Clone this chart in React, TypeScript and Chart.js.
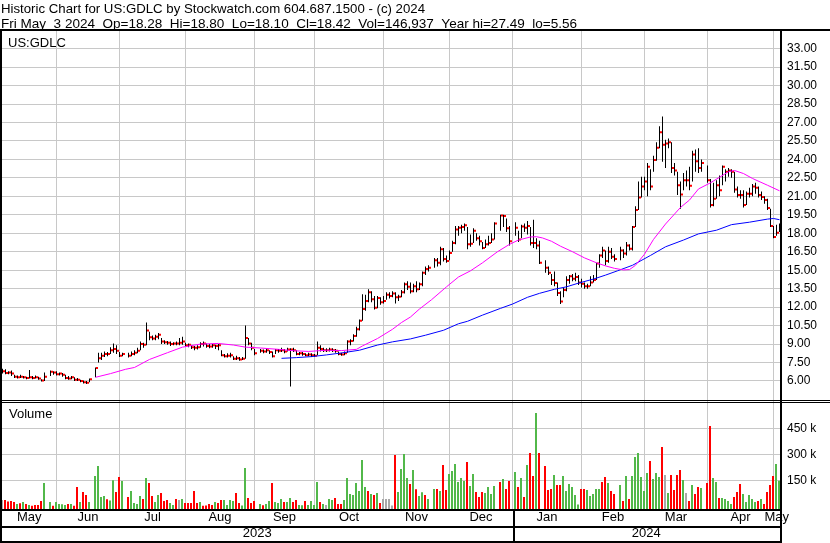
import React, { useEffect, useRef } from 'react';
import { Chart, registerables } from 'chart.js';

Chart.register(...registerables);

// ---------- texts ----------
const HEADER_LINE_1 = 'Historic Chart for US:GDLC by Stockwatch.com 604.687.1500 - (c) 2024';
const HEADER_LINE_2 = 'Fri May  3 2024  Op=18.28  Hi=18.80  Lo=18.10  Cl=18.42  Vol=146,937  Year hi=27.49  lo=5.56';
const SYMBOL_LABEL = 'US:GDLC';
const VOLUME_LABEL = 'Volume';

// ---------- daily data: one slot per weekday, May 8 2023 .. May 3 2024 (null = market holiday) ----------
const LOWS = [
  6.6, 6.55, 6.55, 6.4, 6.25, 6.2, 6.25, 6.2, 6.15, 6.2,
  6.15, 6.2, 6.1, 5.95, 6.0, null, 6.4, 6.5, 6.45, 6.45,
  6.35, 6.15, 6.1, 6.15, 6.0, 6.0, 5.9, 5.8, 5.75, 5.9,
  null, 6.3, 7.5, 7.7, 7.95, 8.0, 8.2, 8.3, 8.2, 7.95,
  8.0, null, 7.9, 8.0, 8.1, 8.25, 8.5, 8.7, 8.9, 9.3,
  9.3, 9.3, 9.4, 9.0, 9.0, 8.95, 8.85, 8.9, 8.9, 8.9,
  8.95, 8.8, 8.75, 8.6, 8.5, 8.55, 8.7, 8.8, 8.7, 8.65,
  8.7, 8.6, 8.5, 8.0, 7.9, 7.9, 7.9, 7.7, 7.7, 7.65,
  7.7, 7.8, 8.9, 8.5, 8.1, null, 8.3, 8.25, 8.3, 8.2,
  7.9, 8.2, 8.3, 8.35, 8.25, 8.4, 5.56, 8.35, 8.1, 8.1,
  8.05, 8.0, 8.0, 7.95, 7.95, 8.1, 8.4, 8.35, 8.35, 8.4,
  8.35, 8.3, 8.1, 8.05, 8.1, 8.3, 8.9, 9.2, 9.6, 10.1,
  10.9, 11.7, 12.4, 12.4, 11.8, 11.9, 12.2, 12.3, 12.6, 12.7,
  12.8, 12.3, 12.5, 12.8, 13.1, 13.4, 13.1, 13.2, 13.2, 13.4,
  13.7, 14.6, 14.9, null, 15.2, 15.3, 15.4, 15.7, 15.6, 15.8,
  16.5, 17.1, 17.8, 18.0, 18.2, 16.7, 16.9, 17.2, 17.4, 17.0,
  16.7, 16.8, 17.0, 17.2, 17.5, null, 18.2, 18.5, 18.1, 17.0,
  null, 17.8, 17.3, 17.6, 18.1, 17.9, 17.0, 16.8, 16.7, 15.5,
  null, 14.8, 14.6, 13.8, 13.7, 12.9, 12.25, 12.8, 13.3, 13.9,
  14.1, 14.1, 13.8, 13.6, 13.5, 13.5, 13.7, 14.0, 14.2, 15.2,
  16.0, 15.4, 15.6, 15.9, 15.7, null, 15.8, 16.0, 16.2, 16.6,
  16.6, 18.5, 19.9, 20.9, 21.5, 21.0, 21.5, 23.0, 23.9, 24.9,
  23.8, 23.3, 24.9, 22.9, 22.7, 21.1, 20.0, 21.5, 21.8, 21.5,
  22.2, 23.0, 22.9, 23.0, null, 22.1, 20.1, 20.2, 20.8, 21.0,
  21.9, 22.2, 22.6, 22.5, 21.3, 20.9, 20.8, 20.1, 20.3, 20.9,
  21.0, 21.2, 20.9, 20.7, 20.4, 19.9, 18.5, 17.6, 17.8, 18.1,
];

const HIGHS = [
  7.0, 6.95, 6.8, 6.85, 6.5, 6.45, 6.5, 6.4, 6.35, 6.9,
  6.4, 6.45, 6.35, 6.15, 6.7, null, 6.85, 6.8, 6.8, 6.7,
  6.65, 6.5, 6.4, 6.4, 6.3, 6.25, 6.1, 6.05, 6.0, 6.2,
  null, 7.1, 8.3, 8.3, 8.4, 8.35, 8.75, 9.05, 8.9, 8.35,
  8.3, null, 8.3, 8.4, 8.5, 8.7, 9.2, 9.1, 10.75, 10.0,
  9.7, 9.75, 9.9, 9.5, 9.3, 9.25, 9.2, 9.15, 9.2, 9.5,
  9.6, 9.1, 9.05, 8.9, 8.85, 8.9, 9.15, 9.2, 9.05, 9.0,
  9.0, 8.95, 9.0, 8.5, 8.2, 8.25, 8.3, 8.0, 8.05, 7.95,
  7.95, 10.5, 9.5, 9.1, 8.6, null, 8.6, 8.55, 8.65, 8.5,
  8.4, 8.6, 8.6, 8.7, 8.6, 8.7, 8.65, 8.7, 8.5, 8.35,
  8.35, 8.25, 8.3, 8.25, 8.2, 9.2, 8.9, 8.7, 8.65, 8.7,
  8.65, 8.6, 8.4, 8.3, 8.4, 9.3, 9.4, 9.8, 10.4, 11.0,
  13.05, 13.0, 13.45, 13.3, 12.9, 12.9, 12.8, 12.9, 13.2, 13.2,
  13.3, 13.2, 13.0, 13.4, 14.0, 14.1, 14.0, 13.9, 14.1, 14.0,
  14.9, 15.3, 15.4, null, 16.0, 16.0, 16.9, 16.8, 16.2, 16.6,
  17.4, 18.6, 18.6, 18.7, 18.8, 18.5, 17.9, 18.4, 18.0, 17.8,
  17.3, 17.5, 17.8, 18.0, 18.9, null, 19.5, 19.5, 19.2, 18.6,
  null, 18.9, 18.2, 18.7, 18.8, 19.0, 18.5, 19.1, 17.6, 17.4,
  null, 15.8, 15.3, 14.7, 14.9, 14.0, 13.3, 13.6, 14.5, 14.6,
  14.7, 14.8, 14.6, 14.3, 14.0, 13.9, 14.5, 14.6, 15.6, 16.3,
  16.9, 16.6, 16.9, 16.8, 16.3, null, 16.9, 16.7, 17.3, 17.1,
  18.6, 20.2, 22.2, 22.6, 22.6, 23.7, 23.2, 24.3, 25.4, 26.7,
  27.49, 25.6, 25.7, 25.4, 23.7, 23.0, 22.2, 22.9, 23.1, 23.4,
  24.7, 24.8, 24.9, 24.0, null, 23.5, 22.4, 22.1, 22.3, 22.7,
  23.5, 23.2, 23.3, 23.2, 23.0, 21.8, 21.5, 21.5, 21.4, 21.7,
  22.0, 22.1, 21.8, 21.4, 21.0, 20.8, 20.0, 18.6, 18.7, 18.8,
];

const CLOSES = [
  6.8, 6.65, 6.7, 6.6, 6.35, 6.3, 6.35, 6.3, 6.25, 6.3,
  6.25, 6.3, 6.2, 6.05, 6.35, null, 6.75, 6.7, 6.55, 6.6,
  6.5, 6.25, 6.2, 6.3, 6.1, 6.1, 6.0, 5.9, 5.85, 6.15,
  null, 7.05, 7.85, 8.05, 8.2, 8.2, 8.5, 8.6, 8.45, 8.05,
  8.2, null, 8.05, 8.2, 8.3, 8.45, 9.0, 8.95, 10.1, 9.55,
  9.45, 9.6, 9.75, 9.2, 9.15, 9.1, 9.0, 9.05, 9.05, 9.1,
  9.2, 8.9, 8.95, 8.75, 8.7, 8.75, 9.0, 9.05, 8.85, 8.8,
  8.9, 8.85, 8.9, 8.1, 8.0, 8.05, 8.1, 7.8, 7.85, 7.75,
  7.8, 9.5, 9.05, 8.7, 8.25, null, 8.45, 8.4, 8.5, 8.35,
  8.0, 8.5, 8.45, 8.5, 8.4, 8.55, 8.55, 8.5, 8.2, 8.25,
  8.2, 8.1, 8.15, 8.1, 8.05, 8.7, 8.6, 8.5, 8.5, 8.55,
  8.5, 8.45, 8.2, 8.15, 8.25, 9.2, 9.25, 9.65, 10.2, 10.9,
  11.85, 12.5, 13.2, 12.65, 11.95, 12.75, 12.4, 12.5, 13.0, 12.9,
  13.1, 12.8, 12.85, 13.2, 13.85, 13.65, 13.3, 13.7, 13.45, 13.85,
  14.8, 15.1, 15.2, null, 15.8, 15.6, 16.7, 15.9, 15.75, 16.4,
  17.2, 18.3, 18.45, 18.5, 18.65, 17.1, 17.15, 18.2, 17.6, 17.35,
  16.8, 17.1, 17.2, 17.5, 18.8, null, 19.45, 19.4, 18.4, 17.35,
  null, 18.45, 17.5, 18.55, 18.45, 18.6, 17.2, 17.2, 17.0, 15.6,
  null, 15.2, 14.8, 14.2, 13.95, 13.15, 12.45, 13.4, 14.2, 14.5,
  14.3, 14.45, 14.0, 13.9, 13.7, 13.7, 14.0, 14.2, 15.55, 16.2,
  16.6, 15.75, 16.5, 16.1, 15.9, null, 16.6, 16.35, 17.0, 16.75,
  18.5, 19.9, 20.9, 21.8, 22.2, 23.4, 21.8, 23.95, 24.95, 26.2,
  25.2, 25.3, 25.4, 23.3, 23.1, 21.9, 21.15, 22.3, 22.3, 21.85,
  24.4, 23.85, 23.3, 23.7, null, 22.3, 20.3, 20.8, 21.9, 21.5,
  23.4, 23.0, 23.1, 23.0, 21.55, 21.1, 21.1, 20.3, 21.2, 21.2,
  21.8, 21.7, 21.1, 20.95, 20.7, 20.05, 18.6, 17.7, 18.05, 18.42,
];

// volume in thousands of shares
const VOLUMES_K = [
  36, 36, 27, 31, 25, 13, 17, 25, 13, 8,
  3, 8, 8, 31, 135, null, 25, 3, 25, 13,
  12, 8, 13, 13, 3, 112, 25, 83, 65, 25,
  null, 175, 233, 54, 60, 40, 33, 150, 83, 169,
  146, null, 54, 88, 19, 13, 60, 42, 163, 135,
  60, 25, 65, 77, 31, 36, 19, 8, 42, 36,
  42, 19, 19, 19, 88, 19, 25, 3, 4, 13,
  8, 25, 19, 36, 36, 8, 36, 31, 77, 19,
  5, 221, 48, 19, 31, null, 13, 6, 13, 31,
  135, 25, 19, 42, 25, 25, 48, 25, 36, 8,
  6, 31, 8, 31, 8, 140, 25, 13, 8, 42,
  36, 48, 13, 13, 36, 163, 71, 65, 135, 88,
  267, 112, 88, 71, 65, 77, 19, 42, 42, 42,
  5, 296, 83, 215, 302, 163, 129, 210, 98, 60,
  81, 65, 42, null, 100, 100, 88, 238, 94, 187,
  204, 244, 140, 163, 146, 256, 117, 187, 83, 54,
  83, 77, 112, 71, 117, null, 140, 158, 100, 146,
  null, 198, 112, 163, 54, 238, 308, 175, 538, 308,
  null, 233, 94, 100, 181, 123, 123, 175, 88, 129,
  112, 65, 10, 100, 100, 94, 60, 71, 100, 100,
  140, 169, 135, 88, 71, null, 123, 31, 175, 42,
  175, 285, 308, 169, 88, 192, 262, 158, 192, 169,
  342, 181, 77, 181, 94, 181, 210, 152, 77, 31,
  123, 71, 112, 106, null, 135, 463, 163, 140, 48,
  48, 42, 31, 13, 54, 83, 129, 71, 25, 65,
  42, 25, 31, 42, 13, 83, 123, 175, 244, 146.937,
];

// day direction: 1 up, -1 down, 0 unchanged
const VOLUME_DIR = [
  0, -1, -1, -1, -1, 1, -1, 1, -1, 1,
  -1, -1, -1, -1, 1, null, 1, -1, 1, 1,
  1, 1, -1, 1, -1, -1, 1, -1, -1, 1,
  null, 1, 1, 1, 1, -1, 1, 1, -1, -1,
  1, null, -1, 1, 1, 1, 1, -1, 1, -1,
  -1, 1, 1, -1, -1, -1, 1, 1, -1, 0,
  1, -1, -1, -1, -1, -1, 1, -1, -1, -1,
  -1, 1, -1, -1, 1, 1, 1, 1, -1, -1,
  1, 1, -1, -1, -1, null, 1, -1, 1, 1,
  -1, 1, 1, 1, -1, 1, 1, -1, -1, 1,
  1, -1, 1, 1, 1, 1, -1, 1, 0, 1,
  1, -1, -1, -1, 1, 1, 1, 1, 1, 1,
  1, 1, -1, 1, -1, 1, -1, 0, 0, 0,
  0, -1, 1, 1, 1, 1, -1, 1, -1, 1,
  1, -1, 1, null, 1, -1, 1, -1, -1, 1,
  1, 1, 1, 1, 1, -1, 1, 1, -1, -1,
  -1, 1, 1, 1, 1, null, -1, 1, -1, -1,
  null, 1, -1, 1, -1, 1, -1, -1, 1, -1,
  null, -1, -1, -1, 1, -1, -1, 1, 1, 1,
  1, 1, 1, -1, -1, 1, 1, 1, 1, 1,
  -1, -1, 1, -1, -1, null, 1, -1, 1, -1,
  1, 1, 1, 1, 1, 1, -1, 1, 1, 1,
  -1, 0, 1, -1, -1, -1, -1, 1, 0, -1,
  1, -1, -1, 1, null, -1, -1, 1, 1, -1,
  1, 1, 1, 1, -1, -1, -1, 1, 1, 1,
  1, 1, -1, 1, -1, -1, -1, -1, 1, 1,
];

// moving averages: [weekday slot, value]
const MA_FAST: [number, number][] = [
  [31, 6.3], [36, 6.6], [41, 6.95], [44, 7.1], [49, 7.75], [55, 8.3], [60, 8.75], [66, 9.0],
  [72, 9.05], [77, 8.92], [81, 8.75], [86, 8.68], [92, 8.57], [97, 8.46], [102, 8.4], [108, 8.5],
  [113, 8.47], [118, 8.57], [120, 8.85], [125, 9.45], [130, 10.2], [133, 10.75], [136, 11.2],
  [139, 11.85], [143, 12.6], [148, 13.65], [152, 14.45], [156, 14.95], [160, 15.6], [165, 16.5],
  [169, 17.1], [172, 17.45], [176, 17.7], [178, 17.72], [180, 17.62], [183, 17.35], [186, 16.95],
  [190, 16.5], [194, 16.0], [198, 15.6], [201, 15.35], [204, 15.15], [207, 15.02], [209, 15.05],
  [211, 15.4], [214, 16.3], [217, 17.5], [221, 18.75], [226, 20.1], [229, 20.7], [232, 21.6],
  [236, 22.1], [239, 22.55], [242, 23.0], [244, 23.1], [247, 22.85], [250, 22.45], [255, 21.9],
  [259, 21.45],
];
const MA_SLOW: [number, number][] = [
  [93, 7.84], [98, 7.9], [103, 7.98], [108, 8.12], [113, 8.28], [119, 8.5], [125, 8.92],
  [130, 9.18], [136, 9.42], [141, 9.72], [147, 10.12], [152, 10.65], [155, 10.85], [160, 11.35],
  [166, 11.9], [170, 12.25], [175, 12.8], [179, 13.12], [184, 13.45], [188, 13.65], [192, 13.95],
  [197, 14.28], [201, 14.6], [205, 14.95], [210, 15.4], [216, 16.2], [221, 16.9], [227, 17.45],
  [232, 17.95], [238, 18.25], [243, 18.7], [249, 18.9], [255, 19.15], [257, 19.2], [259, 19.1],
];

// ---------- axes ----------
const PRICE_TICKS = [6, 7.5, 9, 10.5, 12, 13.5, 15, 16.5, 18, 19.5, 21, 22.5, 24, 25.5, 27, 28.5, 30, 31.5, 33];
const VOLUME_TICKS_K = [150, 300, 450];
const MONTH_LABELS = ['May', 'Jun', 'Jul', 'Aug', 'Sep', 'Oct', 'Nov', 'Dec', 'Jan', 'Feb', 'Mar', 'Apr', 'May'];
const MONTH_START_SLOTS = [18, 39, 61, 84, 104, 127, 149, 170, 193, 214, 235, 257];
const YEAR_LABELS = ['2023', '2024'];
const YEAR_START_SLOTS = [170];

const SLOT_MIN = -1 / 6;
const SLOT_MAX = 259 + 1 / 6;
const PRICE_MIN = 4.375;
const PRICE_MAX = 34.43;
const VOL_MIN = -15.6;
const VOL_MAX = 607.5;

const FONT = '"Liberation Sans", Arial, Helvetica, sans-serif';
const GRID = '#c8c8c8';
const UP = '#52b84a';
const DOWN = '#ff0000';
const FLAT = '#a8a8a8';

function mids(starts: number[]) {
  const b = [SLOT_MIN, ...starts, SLOT_MAX];
  const out: number[] = [];
  for (let k = 0; k < b.length - 1; k++) out.push((b[k] + b[k + 1]) / 2);
  return out;
}

function fitText(ctx: CanvasRenderingContext2D, text: string, x: number, y: number, width: number) {
  const w = ctx.measureText(text).width;
  ctx.save();
  ctx.translate(x, y);
  ctx.scale(width / w, 1);
  ctx.fillText(text, 0, 0);
  ctx.restore();
}

const framePlugin = {
  id: 'frame',
  afterDraw(chart: any) {
    const ctx = chart.ctx as CanvasRenderingContext2D;
    ctx.save();
    ctx.fillStyle = '#000';
    ctx.textAlign = 'left';
    ctx.textBaseline = 'alphabetic';
    ctx.font = '13px ' + FONT;
    fitText(ctx, HEADER_LINE_1, 1, 13, 424);
    fitText(ctx, HEADER_LINE_2, 1, 28, 576);
    ctx.fillText(SYMBOL_LABEL, 8, 47);
    ctx.fillText(VOLUME_LABEL, 9, 418);
    // rules and borders
    ctx.fillRect(0, 29, 830, 2);
    ctx.fillRect(0, 400, 830, 1);
    ctx.fillRect(0, 402, 830, 1);
    ctx.fillRect(0, 29, 2, 514);
    ctx.fillRect(780, 29, 2, 514);
    ctx.fillRect(0, 509, 782, 2);
    ctx.fillRect(0, 526, 782, 2);
    ctx.fillRect(0, 541, 782, 2);
    const xs = chart.scales.x;
    const sep = Math.round(xs.getPixelForValue(YEAR_START_SLOTS[0]));
    ctx.fillRect(sep, 509, 2, 34);
    ctx.restore();
  },
};

export default function App() {
  const ref = useRef<HTMLCanvasElement>(null);

  useEffect(() => {
    const canvas = ref.current;
    if (!canvas) return;

    const hlData: any[] = [];
    const closeData: any[] = [];
    for (let i = 0; i < CLOSES.length; i++) {
      if (CLOSES[i] == null) continue;
      hlData.push({ x: i, y: [LOWS[i], HIGHS[i]] });
      closeData.push({ x: i + 0.5, y: CLOSES[i] });
    }
    const volData: any[] = [];
    const volColors: string[] = [];
    for (let i = 0; i < VOLUMES_K.length; i++) {
      if (VOLUMES_K[i] == null) continue;
      volData.push({ x: i - 1 / 6, y: VOLUMES_K[i] });
      const d = VOLUME_DIR[i] as number;
      volColors.push(d > 0 ? UP : d < 0 ? DOWN : FLAT);
    }

    const monthMids = mids(MONTH_START_SLOTS);
    const yearMids = mids(YEAR_START_SLOTS);

    const chart = new Chart(canvas, {
      type: 'bar',
      data: {
        datasets: [
          {
            type: 'line',
            data: MA_FAST.map(([x, y]) => ({ x, y })),
            borderColor: '#ff00ff',
            borderWidth: 1,
            pointRadius: 0,
            tension: 0,
            xAxisID: 'x',
            yAxisID: 'y',
            order: 0,
          } as any,
          {
            type: 'line',
            data: MA_SLOW.map(([x, y]) => ({ x, y })),
            borderColor: '#0000ff',
            borderWidth: 1,
            pointRadius: 0,
            tension: 0,
            xAxisID: 'x',
            yAxisID: 'y',
            order: 1,
          } as any,
          {
            type: 'scatter',
            data: closeData,
            pointStyle: 'rect',
            pointRadius: Math.SQRT2,
            pointBackgroundColor: '#ff0000',
            backgroundColor: '#ff0000',
            pointBorderWidth: 0,
            borderWidth: 0,
            xAxisID: 'x',
            yAxisID: 'y',
            order: 2,
          } as any,
          {
            type: 'bar',
            data: hlData,
            backgroundColor: '#000000',
            barThickness: 1,
            grouped: false,
            inflateAmount: 0,
            borderWidth: 0,
            xAxisID: 'x',
            yAxisID: 'y',
            order: 3,
          } as any,
          {
            type: 'bar',
            data: volData,
            backgroundColor: volColors,
            barThickness: 2,
            grouped: false,
            inflateAmount: 0,
            borderWidth: 0,
            base: VOL_MIN,
            xAxisID: 'x',
            yAxisID: 'yVol',
            order: 4,
          } as any,
        ],
      },
      options: {
        responsive: false,
        devicePixelRatio: 1,
        animation: false,
        events: [],
        layout: { padding: { top: 31, left: 2, right: 0, bottom: 2 }, autoPadding: false } as any,
        plugins: { legend: { display: false }, tooltip: { enabled: false }, title: { display: false } },
        scales: {
          x: {
            type: 'linear',
            position: 'bottom',
            min: SLOT_MIN,
            max: SLOT_MAX,
            offset: false,
            bounds: 'data',
            afterBuildTicks: (s: any) => { s.ticks = MONTH_START_SLOTS.map((v) => ({ value: v })); },
            ticks: { display: false, autoSkip: false },
            grid: { color: GRID, drawTicks: false, offset: false, lineWidth: 1 },
            border: { display: false },
            afterFit: (s: any) => { s.height = 0; },
          },
          xm: {
            type: 'linear',
            position: 'bottom',
            min: SLOT_MIN,
            max: SLOT_MAX,
            offset: false,
            bounds: 'data',
            afterBuildTicks: (s: any) => { s.ticks = monthMids.map((v) => ({ value: v })); },
            ticks: {
              autoSkip: false,
              maxRotation: 0,
              minRotation: 0,
              padding: 1,
              color: '#000',
              font: { family: FONT, size: 13 },
              callback: (_v: any, idx: number) => MONTH_LABELS[idx],
            },
            grid: { display: false, drawTicks: false, offset: false },
            border: { display: false },
            afterFit: (s: any) => { s.height = 17; },
          },
          xy: {
            type: 'linear',
            position: 'bottom',
            min: SLOT_MIN,
            max: SLOT_MAX,
            offset: false,
            bounds: 'data',
            afterBuildTicks: (s: any) => { s.ticks = yearMids.map((v) => ({ value: v })); },
            ticks: {
              autoSkip: false,
              maxRotation: 0,
              minRotation: 0,
              padding: 0,
              color: '#000',
              font: { family: FONT, size: 13 },
              callback: (_v: any, idx: number) => YEAR_LABELS[idx],
            },
            grid: { display: false, drawTicks: false, offset: false },
            border: { display: false },
            afterFit: (s: any) => { s.height = 15; },
          },
          y: {
            type: 'linear',
            position: 'right',
            stack: 'panels',
            stackWeight: 370,
            min: PRICE_MIN,
            max: PRICE_MAX,
            bounds: 'data',
            beginAtZero: false,
            afterBuildTicks: (s: any) => { s.ticks = PRICE_TICKS.map((v) => ({ value: v })); },
            ticks: {
              autoSkip: false,
              padding: 7,
              color: '#000',
              font: { family: FONT, size: 12 },
              callback: (v: any) => Number(v).toFixed(2),
            },
            grid: { color: GRID, drawTicks: false, lineWidth: 1 },
            border: { display: false },
            afterFit: (s: any) => { s.width = 50; },
          },
          yVol: {
            type: 'linear',
            position: 'right',
            stack: 'panels',
            stackWeight: 108,
            min: VOL_MIN,
            max: VOL_MAX,
            bounds: 'data',
            beginAtZero: false,
            afterBuildTicks: (s: any) => { s.ticks = VOLUME_TICKS_K.map((v) => ({ value: v })); },
            ticks: {
              autoSkip: false,
              padding: 7,
              color: '#000',
              font: { family: FONT, size: 12 },
              callback: (v: any) => `${v} k`,
            },
            grid: { color: GRID, drawTicks: false, lineWidth: 1 },
            border: { display: false },
            afterFit: (s: any) => { s.width = 50; },
          },
        } as any,
      },
      plugins: [framePlugin],
    });

    return () => chart.destroy();
  }, []);

  return (
    <div style={{ position: 'fixed', left: 0, top: 0, width: 830, height: 543, background: '#ffffff' }}>
      <canvas ref={ref} width={830} height={543} style={{ display: 'block', width: 830, height: 543 }} />
    </div>
  );
}
